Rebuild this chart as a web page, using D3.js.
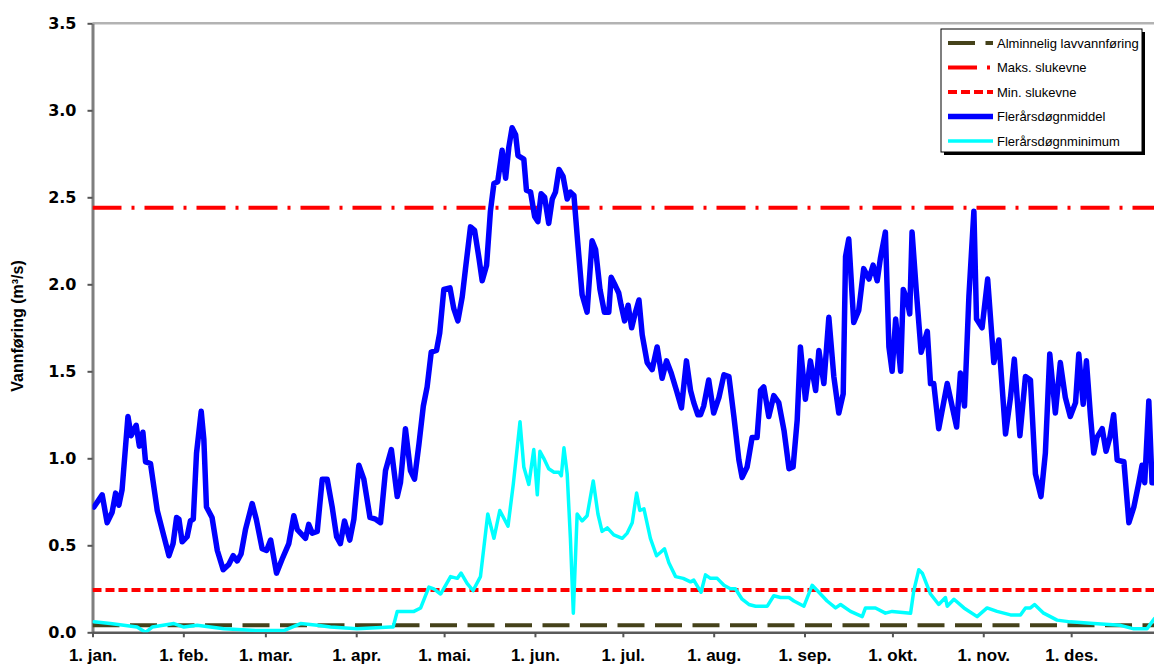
<!DOCTYPE html>
<html>
<head>
<meta charset="utf-8">
<script src="https://cdn.jsdelivr.net/npm/d3@7"></script>
<style>
  html, body { margin: 0; padding: 0; background: #fff; }
  svg { display: block; }
</style>
</head>
<body>
<svg id="chart" width="1154" height="666"></svg>
<script>
// ---------- DATA ----------
const monthStarts = [0, 31, 59, 90, 120, 151, 181, 212, 243, 273, 304, 334];
const monthLabels = ["1. jan.", "1. feb.", "1. mar.", "1. apr.", "1. mai.", "1. jun.", "1. jul.", "1. aug.", "1. sep.", "1. okt.", "1. nov.", "1. des."];
const yTicks = [0, 0.5, 1.0, 1.5, 2.0, 2.5, 3.0, 3.5];

const seriesNames = ["Alminnelig lavvannføring", "Maks. slukevne", "Min. slukevne", "Flerårsdøgnmiddel", "Flerårsdøgnminimum"];
const alminneligLavvannforing = 0.04;
const maksSlukevne = 2.44;
const minSlukevne = 0.243;

const middelDays = [0.5,3.3,5.0,6.7,7.9,9.0,10.1,12.1,13.2,14.9,16.0,17.2,18.1,19.8,22.1,24.4,26.1,27.5,28.7,29.5,30.6,32.3,33.4,34.4,35.5,37.1,38.0,38.9,40.8,42.6,44.6,46.5,48.0,49.4,50.7,52.2,54.5,55.9,57.9,59.4,60.8,62.8,64.7,67.0,68.7,69.9,72.7,73.8,75.0,76.7,78.4,80.1,81.8,83.3,84.6,86.0,87.8,89.2,90.9,92.6,94.7,96.6,98.3,100.0,102.0,104.0,105.1,
  106.8,108.5,109.9,111.4,112.9,114.2,115.6,117.4,118.5,119.9,122.0,123.3,124.7,126.2,127.3,129.0,130.4,131.9,133.0,134.5,135.8,137.0,138.3,139.8,141.0,142.1,143.2,144.4,145.2,147.2,148.1,149.5,150.9,152.0,153.1,154.3,155.7,156.9,158.0,159.2,160.6,162.0,163.1,164.3,165.6,167.1,168.8,170.5,171.7,173.2,174.7,176.2,177.0,178.5,179.6,180.4,181.6,182.8,184.0,185.3,186.5,187.6,189.3,191.0,192.7,194.4,195.9,197.5,199.3,201.0,202.7,204.1,205.2,206.6,
  207.5,208.6,210.3,212.0,213.8,215.5,217.2,218.9,220.6,221.7,223.4,225.1,226.8,228.0,229.1,230.8,232.5,234.2,236.0,237.7,239.1,240.5,241.6,243.3,245.0,246.8,247.9,249.6,251.3,253.0,254.7,256.2,257.0,258.1,259.8,261.5,263.2,265.0,266.4,267.8,268.9,270.6,271.8,272.9,274.1,275.8,276.7,278.0,278.9,279.7,281.2,282.8,284.9,286.0,287.1,288.8,291.7,294.9,296.2,
  297.6,299.1,300.8,301.7,303.6,305.5,307.6,309.3,311.6,313.3,314.6,316.5,318.4,320.1,321.8,323.7,325.2,326.7,328.6,330.3,332.0,333.7,335.5,336.6,338.1,339.2,340.6,341.7,342.8,344.6,345.9,347.2,348.5,349.7,352.0,353.7,355.4,357.1,358.2,359.1,360.5,361.6,362.5];
const middelVals = [0.72,0.79,0.63,0.69,0.80,0.73,0.82,1.24,1.13,1.19,1.07,1.15,0.98,0.97,0.70,0.55,0.44,0.51,0.66,0.65,0.52,0.55,0.64,0.65,1.03,1.27,1.11,0.72,0.66,0.47,0.36,0.39,0.44,0.41,0.45,0.59,0.74,0.65,0.48,0.47,0.53,0.34,0.42,0.51,0.67,0.59,0.54,0.62,0.57,0.58,0.88,0.88,0.72,0.55,0.51,0.64,0.53,0.65,0.96,0.88,0.66,0.65,0.63,0.93,1.05,0.78,0.86,
  1.17,0.93,0.88,1.08,1.30,1.41,1.61,1.62,1.72,1.97,1.98,1.86,1.79,1.93,2.09,2.33,2.31,2.15,2.02,2.11,2.42,2.58,2.59,2.77,2.61,2.79,2.90,2.86,2.74,2.72,2.54,2.53,2.39,2.36,2.52,2.50,2.35,2.49,2.53,2.66,2.62,2.49,2.53,2.51,2.24,1.94,1.84,2.25,2.20,1.97,1.84,1.84,2.04,1.99,1.95,1.88,1.79,1.88,1.75,1.84,1.91,1.71,1.55,1.51,1.64,1.46,1.56,1.49,1.39,1.29,1.56,1.39,1.32,1.25,
  1.25,1.30,1.45,1.26,1.35,1.48,1.47,1.24,0.99,0.89,0.95,1.12,1.12,1.39,1.41,1.24,1.36,1.32,1.16,0.94,0.95,1.22,1.64,1.34,1.56,1.39,1.62,1.43,1.81,1.47,1.26,1.37,2.16,2.26,1.78,1.85,2.09,2.03,2.11,2.02,2.15,2.30,1.64,1.50,1.80,1.50,1.97,1.91,1.83,2.30,1.95,1.61,1.73,1.43,1.43,1.17,1.43,1.18,1.49,
  1.30,1.93,2.42,1.80,1.75,2.03,1.55,1.68,1.14,1.35,1.57,1.13,1.47,1.45,0.91,0.78,1.03,1.60,1.26,1.55,1.35,1.24,1.32,1.60,1.31,1.56,1.24,1.03,1.12,1.17,1.04,1.12,1.25,0.99,0.98,0.63,0.72,0.86,0.96,0.86,1.33,0.86,0.86];

const minimumDays = [0.5,6.1,15.2,18.1,20.4,27.8,31.2,35.7,44.8,56.2,65.3,71.0,76.7,81.2,90.3,101.7,102.6,104.0,109.7,112.0,114.8,116.5,118.8,122.2,124.5,125.8,127.9,129.9,132.4,134.9,137.0,139.0,141.8,143.6,145.9,147.2,148.9,150.6,151.8,152.7,154.0,155.7,157.5,159.2,160.0,160.9,162.0,163.1,164.1,165.4,167.1,168.8,170.9,172.5,173.9,175.7,177.9,180.8,182.5,184.2,185.7,186.8,188.2,190.4,192.5,193.9,195.2,196.7,199.0,201.6,204.1,205.2,207.7,
  209.2,210.9,213.2,215.5,217.7,219.4,221.7,224.0,226.3,230.3,232.5,234.8,237.7,239.4,242.8,245.6,247.9,250.7,253.6,255.3,258.7,262.7,263.8,267.2,270.6,272.9,279.2,280.3,282.0,283.2,286.0,288.8,291.1,291.7,294.0,297.4,301.9,305.3,308.7,313.3,316.7,318.4,320.1,321.5,324.6,329.2,333.7,341.7,350.8,355.4,359.9,361.6,362.5];
const minimumVals = [0.06,0.05,0.03,0.00,0.03,0.05,0.03,0.04,0.02,0.01,0.01,0.05,0.04,0.03,0.02,0.03,0.03,0.12,0.12,0.14,0.26,0.25,0.22,0.32,0.31,0.34,0.28,0.24,0.32,0.68,0.54,0.70,0.61,0.85,1.21,0.95,0.85,1.05,0.79,1.04,1.00,0.94,0.92,0.92,0.90,1.06,0.91,0.54,0.11,0.68,0.64,0.67,0.87,0.68,0.58,0.60,0.56,0.54,0.57,0.63,0.80,0.70,0.71,0.54,0.44,0.46,0.48,0.40,0.32,0.31,0.29,0.30,0.23,
  0.33,0.31,0.31,0.27,0.25,0.25,0.19,0.16,0.15,0.15,0.21,0.20,0.20,0.18,0.15,0.27,0.23,0.18,0.14,0.16,0.12,0.09,0.14,0.14,0.11,0.12,0.11,0.24,0.36,0.34,0.22,0.16,0.20,0.15,0.19,0.14,0.09,0.14,0.12,0.10,0.10,0.14,0.14,0.16,0.11,0.07,0.06,0.05,0.04,0.02,0.02,0.06,0.08];

// ---------- CHART ----------
const svg = d3.select("#chart");
svg.append("rect").attr("width", 1154).attr("height", 666).attr("fill", "#fff");

const x = d3.scaleLinear().domain([0, 365]).range([92.5, 1162]);
const y = d3.scaleLinear().domain([0, 3.5]).range([632.3, 23.3]);

// top border of plot area
svg.append("line")
  .attr("x1", x(0)).attr("x2", 1154)
  .attr("y1", y(3.5)).attr("y2", y(3.5))
  .attr("stroke", "#b3b3b3").attr("stroke-width", 2.5);

// Y axis
const yAxis = svg.append("g")
  .attr("transform", `translate(${x(0)},0)`)
  .call(d3.axisLeft(y).tickValues(yTicks).tickFormat(d3.format(".1f")).tickSize(5).tickSizeOuter(0).tickPadding(11));
yAxis.select(".domain").attr("stroke", "#7f7f7f").attr("stroke-width", 3);
yAxis.selectAll(".tick line").attr("stroke", "#555").attr("stroke-width", 2);
yAxis.selectAll(".tick text")
  .attr("font-family", "'DejaVu Sans', sans-serif").attr("font-weight", "bold")
  .attr("font-size", 16).attr("fill", "#000");

// X axis
const xAxis = svg.append("g")
  .attr("transform", `translate(0,${y(0)})`)
  .call(d3.axisBottom(x).tickValues(monthStarts).tickFormat((d, i) => monthLabels[i]).tickSize(5).tickSizeOuter(0).tickPadding(12));
xAxis.select(".domain").attr("stroke", "#5a5a5a").attr("stroke-width", 2.5);
xAxis.selectAll(".tick line").attr("stroke", "#555").attr("stroke-width", 2);
xAxis.selectAll(".tick text")
  .attr("font-family", "'Liberation Sans', Arial, sans-serif").attr("font-weight", "bold")
  .attr("font-size", 17).attr("fill", "#000");

// Y title
svg.append("text")
  .attr("transform", "translate(23,326) rotate(-90)")
  .attr("text-anchor", "middle")
  .attr("font-family", "'Liberation Sans', Arial, sans-serif").attr("font-weight", "bold")
  .attr("font-size", 16).attr("fill", "#000")
  .text("Vannføring (m³/s)");

// clip
svg.append("clipPath").attr("id", "plotclip")
  .append("rect").attr("x", x(0)).attr("y", 0).attr("width", 1154 - x(0)).attr("height", y(0));

const plot = svg.append("g").attr("clip-path", "url(#plotclip)");

const styles = [
  { color: "#45421a", width: 4, dash: "27,10.5" },
  { color: "#ff0000", width: 4, dash: "29,10,3,10" },
  { color: "#ff0000", width: 4, dash: "9,4" },
  { color: "#0000ff", width: 5.5, dash: null },
  { color: "#00ffff", width: 3.5, dash: null }
];

const hLevels = [alminneligLavvannforing, maksSlukevne, minSlukevne];
hLevels.forEach((v, i) => {
  plot.append("line")
    .attr("x1", x(0)).attr("x2", x(365))
    .attr("y1", y(v)).attr("y2", y(v))
    .attr("stroke", styles[i].color).attr("stroke-width", styles[i].width)
    .attr("stroke-dasharray", styles[i].dash);
});

const line = d3.line().x(d => x(d[0])).y(d => y(d[1]));
const middel = d3.zip(middelDays, middelVals);
const minimum = d3.zip(minimumDays, minimumVals);

plot.append("path").datum(middel).attr("d", line)
  .attr("fill", "none").attr("stroke", styles[3].color).attr("stroke-width", styles[3].width)
  .attr("stroke-linejoin", "round").attr("stroke-linecap", "round");
plot.append("path").datum(minimum).attr("d", line)
  .attr("fill", "none").attr("stroke", styles[4].color).attr("stroke-width", styles[4].width)
  .attr("stroke-linejoin", "round").attr("stroke-linecap", "round");

// Legend
const lg = svg.append("g");
const lx = 941, ly = 29, lw = 201, lh = 123;
lg.append("rect").attr("x", lx + 3).attr("y", ly + 3).attr("width", lw).attr("height", lh).attr("fill", "#000");
lg.append("rect").attr("x", lx).attr("y", ly).attr("width", lw).attr("height", lh).attr("fill", "#fff").attr("stroke", "#000").attr("stroke-width", 1);
seriesNames.forEach((name, i) => {
  const yy = 43 + i * 24.5;
  lg.append("line").attr("x1", 948).attr("x2", 993).attr("y1", yy).attr("y2", yy)
    .attr("stroke", styles[i].color).attr("stroke-width", styles[i].width)
    .attr("stroke-dasharray", styles[i].dash);
  lg.append("text").attr("x", 997).attr("y", yy).attr("dy", "0.35em")
    .attr("font-family", "'Liberation Sans', Arial, sans-serif").attr("font-size", 13).attr("fill", "#000")
    .text(name);
});
</script>
</body>
</html>
